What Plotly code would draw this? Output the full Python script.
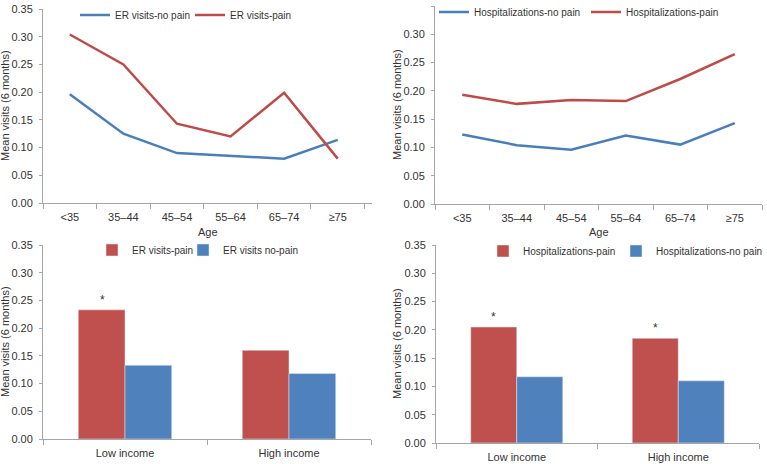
import plotly.graph_objects as go

age_groups = ["<35", "35\u201344", "45\u201354", "55\u201364", "65\u201374", "\u226575"]
er_no_pain = [0.196, 0.125, 0.090, 0.085, 0.080, 0.114]
er_pain = [0.304, 0.250, 0.143, 0.120, 0.199, 0.080]
hosp_no_pain = [0.123, 0.104, 0.096, 0.121, 0.105, 0.143]
hosp_pain = [0.193, 0.177, 0.184, 0.182, 0.221, 0.265]

income = ["Low income", "High income"]
er_pain_inc = [0.233, 0.160]
er_no_pain_inc = [0.133, 0.118]
er_sig = [True, False]
hosp_pain_inc = [0.205, 0.185]
hosp_no_pain_inc = [0.117, 0.110]
hosp_sig = [True, True]

RED = "#C0504D"
BLUE = "#4F81BD"
FONT = "Liberation Sans, Arial, sans-serif"
W, H = 767, 464


def px_x(a, b):
    return [a / W, b / W]


def px_y(top, bottom):
    return [1 - bottom / H, 1 - top / H]


fig = go.Figure()

# top left - ER visits by age
fig.add_trace(go.Scatter(x=age_groups, y=er_no_pain, mode="lines", name="ER visits-no pain",
                         line=dict(color="#4A7EBB", width=2.5), xaxis="x", yaxis="y", legend="legend"))
fig.add_trace(go.Scatter(x=age_groups, y=er_pain, mode="lines", name="ER visits-pain",
                         line=dict(color="#BE4B48", width=2.5), xaxis="x", yaxis="y", legend="legend2"))

# top right - hospitalizations by age
fig.add_trace(go.Scatter(x=age_groups, y=hosp_no_pain, mode="lines", name="Hospitalizations-no pain",
                         line=dict(color="#4A7EBB", width=2.5), xaxis="x2", yaxis="y2", legend="legend3"))
fig.add_trace(go.Scatter(x=age_groups, y=hosp_pain, mode="lines", name="Hospitalizations-pain",
                         line=dict(color="#BE4B48", width=2.5), xaxis="x2", yaxis="y2", legend="legend4"))

# bottom left - ER visits by income
fig.add_trace(go.Bar(x=income, y=er_pain_inc, name="ER visits-pain", marker_color=RED,
                     xaxis="x3", yaxis="y3", legend="legend5", offsetgroup="a"))
fig.add_trace(go.Bar(x=income, y=er_no_pain_inc, name="ER visits no-pain", marker_color=BLUE,
                     xaxis="x3", yaxis="y3", legend="legend6", offsetgroup="b"))

# bottom right - hospitalizations by income
fig.add_trace(go.Bar(x=income, y=hosp_pain_inc, name="Hospitalizations-pain", marker_color=RED,
                     xaxis="x4", yaxis="y4", legend="legend7", offsetgroup="a"))
fig.add_trace(go.Bar(x=income, y=hosp_no_pain_inc, name="Hospitalizations-no pain", marker_color=BLUE,
                     xaxis="x4", yaxis="y4", legend="legend8", offsetgroup="b"))

axis_common = dict(showline=True, linecolor="#A6A6A6", linewidth=1, showgrid=False, zeroline=False,
                   ticks="outside", tickcolor="#A6A6A6",
                   tickfont=dict(family=FONT, size=11, color="#333333"))
yax = dict(axis_common, range=[0, 0.35], dtick=0.05, tickformat=".2f", ticklen=3, ticklabelstandoff=4)
xax = dict(axis_common, tickson="boundaries", ticklen=5, ticklabelstandoff=4)

layout = dict(
    width=W, height=H, margin=dict(l=0, r=0, t=0, b=0, autoexpand=False),
    paper_bgcolor="white", plot_bgcolor="white", showlegend=True,
    font=dict(family=FONT, size=11, color="#333333"),
    barmode="group", bargap=0.43, bargroupgap=0,
    xaxis=dict(xax, domain=px_x(43, 372), range=[-0.5, 5.64], anchor="y"),
    yaxis=dict(yax, domain=px_y(9, 203), anchor="x"),
    xaxis2=dict(xax, domain=px_x(435, 762), range=[-0.5, 5.5], anchor="y2"),
    yaxis2=dict(yax, domain=px_y(6, 204), anchor="x2"),
    xaxis3=dict(xax, domain=px_x(43, 371), range=[-0.5, 1.5], anchor="y3"),
    yaxis3=dict(yax, domain=px_y(245, 439), anchor="x3"),
    xaxis4=dict(xax, domain=px_x(436, 759), range=[-0.5, 1.5], anchor="y4"),
    yaxis4=dict(yax, domain=px_y(245, 443), anchor="x4"),
)

# one legend per series so each entry sits where the reference puts it
leg_common = dict(orientation="h", xanchor="left", yanchor="middle", bgcolor="rgba(0,0,0,0)",
                  font=dict(family=FONT, size=10, color="#333333"))
legend_pos = {"legend": (75, 15), "legend2": (190, 15), "legend3": (434, 12), "legend4": (586, 12),
              "legend5": (92, 250), "legend6": (183, 250), "legend7": (483, 251), "legend8": (616, 251)}
for key, (lx, ly) in legend_pos.items():
    layout[key] = dict(leg_common, x=lx / W, y=1 - ly / H)

annotations = []
for yd, xc in [("y", 5), ("y2", 397), ("y3", 5), ("y4", 397)]:
    annotations.append(dict(text="Mean visits (6 months)", textangle=-90, xref="paper", yref=yd + " domain",
                            x=xc / W, y=0.5, showarrow=False, font=dict(size=11),
                            xanchor="center", yanchor="middle"))
annotations.append(dict(text="Age", xref="x domain", yref="paper", x=0.5, y=1 - 232 / H,
                        showarrow=False, font=dict(size=11), yanchor="middle"))
annotations.append(dict(text="Age", xref="x2 domain", yref="paper", x=0.5, y=1 - 232 / H,
                        showarrow=False, font=dict(size=11), yanchor="middle"))

for xd, yd, vals, sig in [("x3", "y3", er_pain_inc, er_sig), ("x4", "y4", hosp_pain_inc, hosp_sig)]:
    for cat, v, s in zip(income, vals, sig):
        if s:
            annotations.append(dict(text="*", xref=xd, yref=yd, x=cat, y=v, xshift=-23, yshift=1,
                                    showarrow=False, yanchor="bottom", font=dict(size=12)))

layout["annotations"] = annotations
fig.update_layout(layout)
# the page's default 8px body margin would push the chart off its 767x464 frame
fig.write_html("out.html", config={"displayModeBar": False},
               post_script="document.body.style.margin='0';")
